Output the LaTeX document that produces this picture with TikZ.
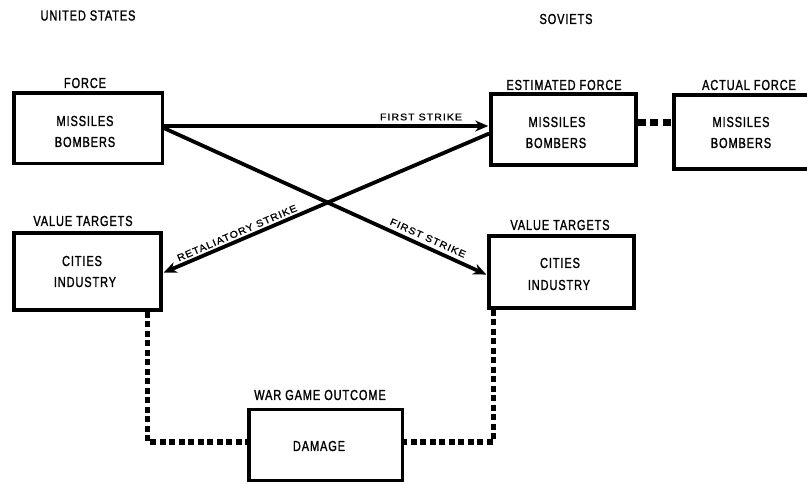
\documentclass[tikz,border=0pt]{standalone}
\usepackage{fontspec}
\setmainfont{Liberation Sans}
\newfontfamily\boxfont{Liberation Sans}[FakeStretch=0.76,LetterSpace=6,FakeBold=1.3]
\newfontfamily\arrfont{Liberation Sans}[FakeStretch=1.1,LetterSpace=10,FakeBold=1]
\usetikzlibrary{arrows.meta,calc}
\begin{document}
\begin{tikzpicture}[x=1pt,y=-1pt,
  box/.style={draw, line width=3.5pt, rectangle, inner sep=0pt},
  ttl/.style={font=\boxfont\fontsize{14.5}{21}\selectfont, inner sep=0pt},
  strike/.style={line width=3.8pt, shorten >=1pt, -{Stealth[length=13pt,width=11pt,inset=4pt]}},
  slbl/.style={font=\arrfont\fontsize{9.7}{10}\selectfont, inner sep=0pt},
  dots/.style={line width=5.5pt, dash pattern=on 6pt off 3.5pt},
  thickdash/.style={line width=7pt, dash pattern=on 8pt off 4.5pt}
]
\useasboundingbox[fill=white] (0,0) rectangle (807,484);

% boxes
\node[box, minimum width=148.5pt, minimum height=70.5pt] (usf) at (88.25,128.25) {};
\node[box, minimum width=145pt, minimum height=71pt] (sef) at (563.5,129.5) {};
\node[minimum width=133pt, minimum height=74pt, inner sep=0pt] (saf) at (740.5,132) {};
\draw[line width=3.5pt] (saf.north east) -- (saf.north west) -- (saf.south west) -- (saf.south east);
\node[box, minimum width=147pt, minimum height=77pt] (usv) at (87.5,271.5) {};
\node[box, minimum width=145pt, minimum height=71.5pt] (sov) at (561.5,272) {};
\node[box, minimum width=153.5pt, minimum height=71pt] (dmg) at (325.75,445) {};

% headings
\node[ttl] (us) at (88,15.5) {UNITED STATES};
\node[ttl] (sv) at (566,19) {SOVIETS};
\node[ttl] (usfL) at (85,83) {FORCE};
\node[ttl] (sefL) at (564,85) {ESTIMATED FORCE};
\node[ttl] (safL) at (749,85) {ACTUAL FORCE};
\node[ttl] (usvL) at (83,221) {VALUE TARGETS};
\node[ttl] (sovL) at (560,225) {VALUE TARGETS};
\node[ttl] (dmgL) at (320,395) {WAR GAME OUTCOME};

% box contents
\node[ttl] (usf1) at (85,121) {MISSILES};
\node[ttl] (usf2) at (85,142) {BOMBERS};
\node[ttl] (sef1) at (557,122) {MISSILES};
\node[ttl] (sef2) at (556,143) {BOMBERS};
\node[ttl] (saf1) at (741,122) {MISSILES};
\node[ttl] (saf2) at (741,143) {BOMBERS};
\node[ttl] (usv1) at (82,261) {CITIES};
\node[ttl] (usv2) at (85,282) {INDUSTRY};
\node[ttl] (sov1) at (560,263) {CITIES};
\node[ttl] (sov2) at (559,285) {INDUSTRY};
\node[ttl] (dmg1) at (319,446) {DAMAGE};

% strikes
\draw[strike] ($(usf.east)+(0,-2.25)$) -- ($(sef.west)+(0,-3.5)$);
\draw[strike] ($(usf.east)+(0,0)$) -- ($(sov.west)+(0,3)$);
\draw[strike] ($(sef.west)+(0,4)$) -- ($(usv.east)+(0,1.5)$);
\node[slbl] (fs1) at (421,117) {FIRST STRIKE};
\node[slbl, rotate=-24.3] (fs2) at (428,238) {FIRST STRIKE};
\node[slbl, rotate=23.2] (rs) at (237,233) {RETALIATORY STRIKE};

% dotted links
\draw[thickdash] ($(sef.east)+(0,-6.5)$) -- ($(saf.west)+(0,-9)$);
\draw[dots] ($(usv.south west)+(135,0)$) |- ($(dmg.west)+(0,-3)$);
\draw[dots] ($(sov.south west)+(6,0)$) |- ($(dmg.east)+(0,-3)$);
\end{tikzpicture}
\end{document}
